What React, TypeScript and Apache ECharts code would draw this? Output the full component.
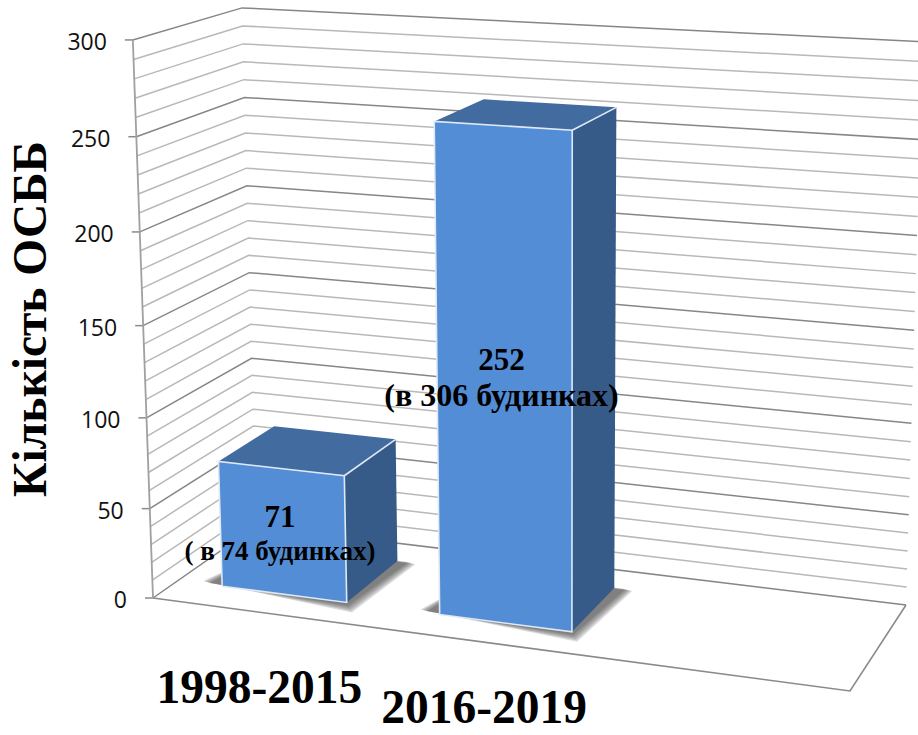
import React, { useEffect, useRef } from "react";
import * as echarts from "echarts";

const categories = ["1998-2015", "2016-2019", ""];
const values = [71, 252];
const mainLabels = ["71", "252"];
const subLabels = ["( в 74 будинках)", "(в 306 будинках)"];
const axisTicks = [0, 50, 100, 150, 200, 250, 300];
const minorLines = [10, 20, 30, 40, 60, 70, 80, 90, 110, 120, 130, 140, 160, 170, 180, 190, 210, 220, 230, 240, 260, 270, 280, 290];
const yTitle = "Кількість ОСББ";

const SERIF = '"Liberation Serif", "Times New Roman", serif';
const SANS = '"Open Sans", "Noto Sans", sans-serif';

type P = [number, number];
function floorPlane(q: P[]) {
  const [[x0, y0], [x1, y1], [x2, y2], [x3, y3]] = q;
  const dx1 = x1 - x2, dx2 = x3 - x2, sx = x0 - x1 + x2 - x3;
  const dy1 = y1 - y2, dy2 = y3 - y2, sy = y0 - y1 + y2 - y3;
  const det = dx1 * dy2 - dx2 * dy1;
  const g = (sx * dy2 - dx2 * sy) / det;
  const h = (dx1 * sy - sx * dy1) / det;
  const a = x1 - x0 + g * x1, b = x3 - x0 + h * x3, d = y1 - y0 + g * y1, e = y3 - y0 + h * y3;
  return (u: number, w: number) => ({ x: a * u + b * w + x0, y: d * u + e * w + y0, k: g * u + h * w + 1 });
}
const floor = floorPlane([[153, 598], [850, 691], [906, 605], [256, 526]]);
const VANISH: P = [565, 12000];
const DEPTH = 0.04666;
function project(u: number, w: number, t: number): P {
  const f = floor(u, w);
  const s = -t * DEPTH;
  return [(f.x + s * VANISH[0]) / (f.k + s), (f.y + s * VANISH[1]) / (f.k + s)];
}
function tOf(api: any, params: any, value: number) {
  const cs = params.coordSys;
  return (cs.y + cs.height - api.coord([0, value])[1]) / cs.height;
}

const W0 = 0.23, W1 = 0.78, BAR_RATIO = 0.58;
const lift = (u: number) => 1 + 0.15 * (u - 0.23);

function wallItem(major: boolean) {
  return (params: any, api: any) => {
    const t = tOf(api, params, api.value(0));
    const color = major ? "#868686" : "#b8b8b8";
    return {
      type: "polyline",
      shape: { points: [project(0, 0, t), project(0, 1, t), project(1, 1, t)] },
      style: { fill: "none", stroke: color, lineWidth: 1.5 },
      silent: true,
    };
  };
}

function tickItem(params: any, api: any) {
  const v = api.value(0);
  const p = project(0, 0, tOf(api, params, v));
  return {
    type: "group",
    children: [
      { type: "line", shape: { x1: p[0] - 8, y1: p[1], x2: p[0], y2: p[1] }, style: { stroke: "#8a8a8a", lineWidth: 1.5 } },
      { type: "text", style: { x: p[0] - 26, y: p[1] + 1, text: String(v), align: "right", verticalAlign: "middle", font: `23px ${SANS}`, fill: "#111" } },
    ],
  };
}

function frameItem(params: any, api: any) {
  const t0 = tOf(api, params, 0), t1 = tOf(api, params, 300);
  return {
    type: "group",
    children: [
      { type: "polyline", shape: { points: [project(1, 1, t0), project(1, 0, t0), project(0, 0, t0)] }, style: { stroke: "#8a8a8a", lineWidth: 1.6, fill: "none" } },
      { type: "polyline", shape: { points: [project(0, 0, t0), project(0, 0, t1)] }, style: { stroke: "#a0a0a0", lineWidth: 1.8, fill: "none" } },
    ],
  };
}

function barItem(params: any, api: any) {
  const cat = api.value(0), v = api.value(1);
  const cs = params.coordSys;
  const c = (api.coord([cat, 0])[0] - cs.x) / cs.width;
  const half = ((api.size([1, 0])[0] / cs.width) * BAR_RATIO) / 2;
  const u0 = c - half, u1 = c + half;
  const t = tOf(api, params, v) * lift(c);
  const fl0 = project(u0, W0, 0), fr0 = project(u1, W0, 0), br0 = project(u1, W1, 0), bl0 = project(u0, W1, 0);
  const fl1 = project(u0, W0, t), fr1 = project(u1, W0, t), br1 = project(u1, W1, t), bl1 = project(u0, W1, t);
  const edge = { stroke: "#dfe9f5", lineWidth: 1.6, fill: "none" };
  const cx = (fl0[0] + fr0[0] + fl1[0] + fr1[0]) / 4;
  const cy = (fl0[1] + fr0[1] + fl1[1] + fr1[1]) / 4;
  const shadowLayers = [7, 5.5, 4, 2.5, 1, 0].map((d) => ({
    type: "polygon",
    shape: {
      points: [
        [fl0[0] - 12 - d, fl0[1] - 3 - d * 0.3],
        [fr0[0] + 1 + d * 0.6, fr0[1] + 3 + d],
        [br0[0] + 11 + d, br0[1] + 1 + d * 0.3],
        bl0,
      ],
    },
    style: { fill: "#555", opacity: 0.2 },
  }));
  return {
    type: "group",
    children: [
      ...shadowLayers,
      { type: "polygon", shape: { points: [fl1, fr1, br1, bl1] }, style: { fill: "#426BA0" } },
      { type: "polygon", shape: { points: [fr0, br0, br1, fr1] }, style: { fill: "#375B89" } },
      { type: "polygon", shape: { points: [fl0, fr0, fr1, fl1] }, style: { fill: "#538DD5" } },
      { type: "polyline", shape: { points: [fl0, fr0, fr1, fl1, fl0] }, style: edge },
      { type: "line", shape: { x1: fr1[0], y1: fr1[1], x2: br1[0], y2: br1[1] }, style: edge },
      { type: "text", style: { x: cx - 3, y: cy - 15, text: mainLabels[cat], align: "center", verticalAlign: "middle", font: `bold 31px ${SERIF}`, fill: "#000" } },
      { type: "text", style: { x: cx - 3, y: cy + 20, text: subLabels[cat], align: "center", verticalAlign: "middle", font: `bold ${cat === 0 ? 27 : 32}px ${SERIF}`, fill: "#000" } },
    ],
  };
}

function catLabelItem(params: any, api: any) {
  const cat = api.value(0);
  const cs = params.coordSys;
  const c = (api.coord([cat, 0])[0] - cs.x) / cs.width;
  const p = project(c, 0, 0);
  return {
    type: "text",
    style: { x: p[0] - 1, y: Math.min(p[1] + 75, cs.height - 28), text: categories[cat], align: "center", verticalAlign: "middle", font: `bold 47.5px ${SERIF}`, fill: "#000" },
  };
}

export default function App() {
  const ref = useRef<HTMLDivElement>(null);
  useEffect(() => {
    document.body.style.margin = "0";
    const chart = echarts.init(ref.current!, undefined, { renderer: "svg" });
    chart.setOption({
      animation: false,
      backgroundColor: "#fff",
      grid: { left: 0, top: 0, width: 918, height: 735 },
      xAxis: { type: "category", data: categories, show: false },
      yAxis: { type: "value", min: 0, max: 300, interval: 50, show: false },
      tooltip: { show: false },
      series: [
        { type: "custom", name: "minor", coordinateSystem: "cartesian2d", clip: false, data: minorLines.map((v) => [v]), encode: { y: 0 }, renderItem: wallItem(false), z: 1 },
        { type: "custom", name: "major", coordinateSystem: "cartesian2d", clip: false, data: axisTicks.map((v) => [v]), encode: { y: 0 }, renderItem: wallItem(true), z: 2 },
        { type: "custom", name: "ticks", coordinateSystem: "cartesian2d", clip: false, data: axisTicks.map((v) => [v]), encode: { y: 0 }, renderItem: tickItem, z: 3 },
        { type: "custom", name: "frame", coordinateSystem: "cartesian2d", clip: false, data: [[0]], encode: { y: 0 }, renderItem: frameItem, z: 3 },
        { type: "custom", name: "ОСББ", coordinateSystem: "cartesian2d", clip: false, data: values.map((v, i) => [i, v]), encode: { x: 0, y: 1 }, renderItem: barItem, z: 4 },
        { type: "custom", name: "categories", coordinateSystem: "cartesian2d", clip: false, data: [[0], [1]], encode: { x: 0 }, renderItem: catLabelItem, z: 5 },
      ],
      graphic: [
        { type: "text", x: 30, y: 319, rotation: Math.PI / 2, style: { text: yTitle, align: "center", verticalAlign: "middle", font: `bold 47.5px ${SERIF}`, fill: "#000" } },
      ],
    });
    return () => chart.dispose();
  }, []);
  return <div ref={ref} style={{ width: 918, height: 735 }} />;
}
